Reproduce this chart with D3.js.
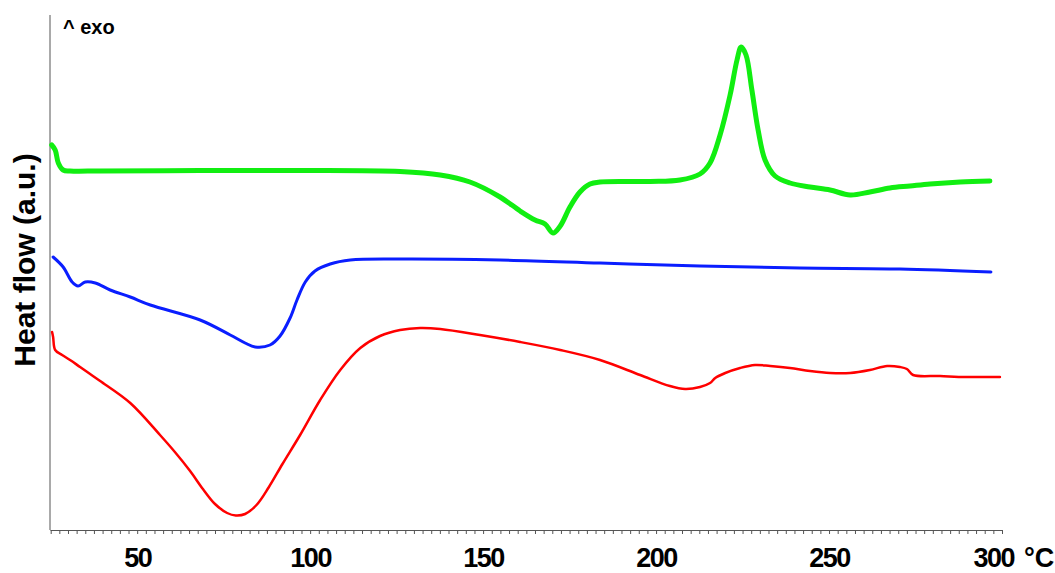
<!DOCTYPE html>
<html>
<head>
<meta charset="utf-8">
<script src="https://cdn.jsdelivr.net/npm/d3@7"></script>
<style>
  body { margin: 0; background: #fff; }
  svg { display: block; }
</style>
</head>
<body>
<svg id="chart" width="1055" height="573"></svg>
<script>
// temperatures in °C, heat flow in arbitrary units
var greenT = [25.3, 26.3, 27.2, 28.6, 30.6, 39.3, 68.2, 97.1, 126, 137.6, 146.2, 154.9, 160.7, 165.0, 167.9, 170.2, 172.3, 175.1, 178.0, 180.9, 183.8, 198.3, 206.9, 212.7, 215.6, 218.5, 221.4, 223.4, 224.6, 226.0, 227.7, 229.5, 231.5, 234.4, 238.7, 244.5, 250.3, 256.1, 261.8, 267.6, 273.4, 279.2, 287.9, 296.5];
var greenHF = [77.0, 76.0, 73.4, 72.0, 71.8, 71.8, 71.9, 71.9, 71.7, 71.0, 69.6, 66.6, 63.8, 62.0, 61.2, 59.4, 60.8, 64.6, 67.6, 69.2, 69.6, 69.7, 70.0, 71.2, 73.4, 79.0, 87.0, 94.0, 96.6, 95.0, 88.0, 80.0, 74.0, 70.8, 69.4, 68.6, 68.0, 67.0, 67.6, 68.4, 68.8, 69.2, 69.6, 69.8];

var blueT = [25.7, 28.6, 31.2, 32.9, 35.0, 37.9, 42.2, 48.0, 53.8, 68.2, 76.9, 81.2, 84.1, 88.4, 91.3, 94.2, 96.2, 98.6, 101.4, 105.8, 111.6, 126.0, 154.9, 183.8, 212.7, 241.6, 270.5, 296.8];
var blueHF = [54.6, 52.6, 49.6, 48.8, 49.6, 49.4, 48.0, 46.6, 45.0, 42.0, 39.0, 37.4, 36.6, 37.0, 38.8, 42.4, 46.0, 49.6, 51.8, 53.2, 54.0, 54.2, 54.0, 53.4, 52.8, 52.4, 52.2, 51.6];

var redT = [25.4, 25.7, 26.3, 28.3, 30.6, 33.5, 36.4, 39.3, 48.0, 56.6, 60.9, 65.3, 69.0, 72.5, 76.0, 78.5, 81.2, 84.5, 88.0, 92.0, 97.1, 102.9, 108.7, 114.5, 120.2, 126.0, 131.8, 137.6, 149.1, 160.7, 172.3, 183.8, 195.4, 204.0, 208.4, 212.7, 215.6, 217.1, 220.0, 224.3, 228.6, 233.0, 238.7, 244.5, 250.3, 256.1, 261.8, 266.8, 270.5, 272.5, 274.3, 282.1, 289.6, 299.4];
var redHF = [39.6, 38.6, 36.0, 35.0, 34.0, 32.6, 31.2, 29.8, 25.4, 19.0, 15.6, 11.8, 8.2, 5.2, 3.4, 2.9, 3.2, 5.0, 8.5, 13.2, 19.0, 26.0, 32.0, 36.4, 38.8, 40.0, 40.4, 40.2, 39.0, 37.6, 36.0, 34.0, 31.0, 28.8, 28.2, 28.6, 29.4, 30.4, 31.4, 32.4, 33.0, 32.8, 32.4, 31.8, 31.4, 31.4, 32.0, 32.8, 32.6, 32.2, 31.0, 30.8, 30.6, 30.6];

var xTickLabels = [50, 100, 150, 200, 250, 300];

var svg = d3.select("#chart");

var x = d3.scaleLinear().domain([24.8, 300]).range([50, 1002]);
var y = d3.scaleLinear().domain([0, 103]).range([530, 15]);

// minor ticks along the bottom
var minorTicks = d3.range(25, 300.1, 2.5);
var xAxisMinor = d3.axisBottom(x).tickValues(minorTicks).tickSize(4).tickSizeOuter(0).tickFormat("");
var gMinor = svg.append("g").attr("transform", "translate(0,530)").call(xAxisMinor);
gMinor.select(".domain").attr("stroke", "#555");
gMinor.selectAll(".tick line").attr("stroke", "#555");

// labels
var xAxisLabels = d3.axisBottom(x).tickValues(xTickLabels).tickSize(0);
var gLab = svg.append("g").attr("transform", "translate(0,530)").call(xAxisLabels);
gLab.select(".domain").remove();
gLab.selectAll("text")
    .attr("y", 37)
    .attr("dy", 0)
    .style("font-family", "'Liberation Sans', Arial, sans-serif")
    .style("font-weight", "bold")
    .style("font-size", "27px")
    .style("letter-spacing", "-1.5px")
    .attr("fill", "#000");
var t300 = gLab.selectAll(".tick").filter(function(d) { return d == 300; }).select("text")
    .attr("text-anchor", "start")
    .attr("x", -29);
t300.append("tspan").attr("dx", 10).style("letter-spacing", "0px").text("°C");

// left axis line
svg.append("line")
    .attr("x1", 50).attr("x2", 50)
    .attr("y1", 15).attr("y2", 530)
    .attr("stroke", "#555").attr("stroke-width", 1);

svg.append("text")
    .attr("transform", "rotate(-90)")
    .attr("x", -260)
    .attr("y", 35)
    .attr("text-anchor", "middle")
    .style("font-family", "'Liberation Sans', Arial, sans-serif")
    .style("font-weight", "bold")
    .style("font-size", "30px")
    .text("Heat flow (a.u.)");

svg.append("text")
    .attr("x", 63)
    .attr("y", 34)
    .style("font-family", "'Liberation Sans', Arial, sans-serif")
    .style("font-weight", "bold")
    .style("font-size", "20px")
    .text("^ exo");

var line = d3.line()
    .x(function(d) { return x(d[0]); })
    .y(function(d) { return y(d[1]); })
    .curve(d3.curveCatmullRom.alpha(0.5));

function draw(ts, vals, color, w) {
    svg.append("path")
        .datum(d3.zip(ts, vals))
        .attr("fill", "none")
        .attr("stroke", color)
        .attr("stroke-width", w)
        .attr("stroke-linejoin", "round")
        .attr("stroke-linecap", "round")
        .attr("d", line);
}

draw(redT, redHF, "#ff0000", 2.5);
draw(blueT, blueHF, "#0a1eff", 3);
draw(greenT, greenHF, "#11ee11", 5);
</script>
</body>
</html>
